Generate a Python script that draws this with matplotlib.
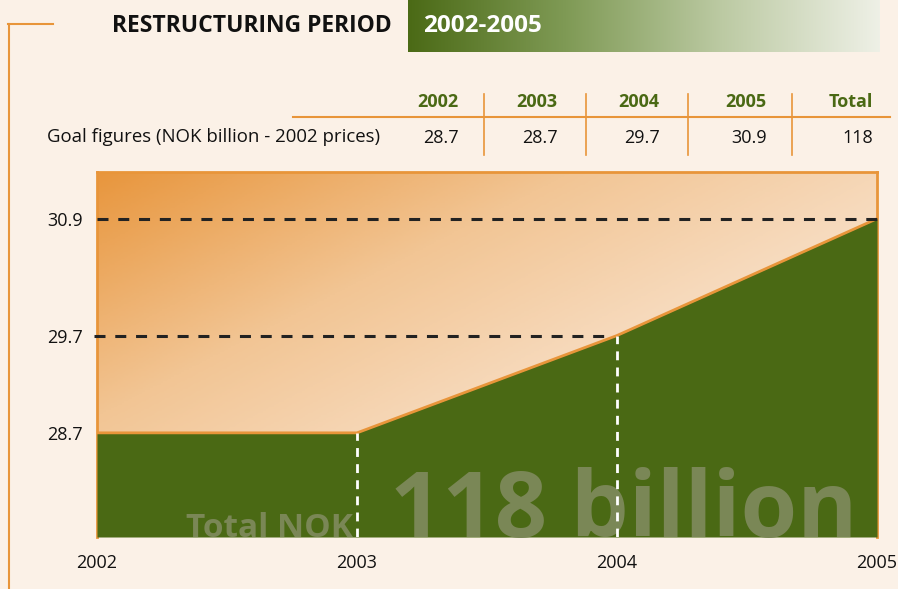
import numpy as np
import matplotlib
matplotlib.use('Agg')
import matplotlib.pyplot as plt
from matplotlib.colors import LinearSegmentedColormap

# data
years = [2002, 2003, 2004, 2005]
goal = [28.7, 28.7, 29.7, 30.9]
total = 118
ytick_vals = [28.7, 29.7, 30.9]
table_head = ['2002', '2003', '2004', '2005', 'Total']
table_vals = ['28.7', '28.7', '29.7', '30.9', '118']

BG = '#fbf1e7'
GREEN = '#4a6914'
ORANGE = '#e8953a'
GHOST = '#7a8756'
FONT = ['Open Sans', 'DejaVu Sans']

W, H = 898, 589
fig = plt.figure(figsize=(W/100, H/100), dpi=100, facecolor=BG)

def fx(px):
    return px / W

def fy(py):
    return 1 - py / H

# header
fig.text(fx(112), fy(26), 'RESTRUCTURING PERIOD', family=FONT, weight='bold',
         fontsize=16.5, color='#111111', va='center', ha='left')
hdr = fig.add_axes([fx(408), fy(52), fx(880)-fx(408), fy(0)-fy(52)])
hdr.axis('off')
hcm = LinearSegmentedColormap.from_list('h', ['#4b6a16', '#7f9a55', '#bccaa3', '#eef0e6'])
hdr.imshow(np.linspace(0, 1, 256)[None, :], cmap=hcm, aspect='auto', extent=[0, 1, 0, 1])
hdr.set_xlim(0, 1); hdr.set_ylim(0, 1)
hdr.text(0.032, 0.5, '2002-2005', color='white', family=FONT, weight='bold',
         fontsize=17.5, va='center', ha='left')

# orange bracket on the left
fig.add_artist(plt.Line2D([fx(8), fx(53)], [fy(24), fy(24)], color=ORANGE, lw=1.5))
fig.add_artist(plt.Line2D([fx(8.5), fx(8.5)], [fy(24), fy(589)], color=ORANGE, lw=1.5))

# table
col_x = [438, 537, 639, 746, 873]
for i, (h, v) in enumerate(zip(table_head, table_vals)):
    ha = 'right' if i == 4 else 'center'
    fig.text(fx(col_x[i]), fy(102), h, color='#4a6914', weight='bold', family=FONT,
             fontsize=13, ha=ha, va='center')
    vx = col_x[i] + 3 if i < 4 else col_x[i]
    fig.text(fx(vx), fy(138), v, color='#111111', family=FONT,
             fontsize=13, ha=ha, va='center')
fig.text(fx(47), fy(137), 'Goal figures (NOK billion - 2002 prices)', color='#111111',
         family=FONT, fontsize=13.4, ha='left', va='center')
fig.add_artist(plt.Line2D([fx(293), fx(890)], [fy(117), fy(117)], color=ORANGE, lw=1.5))
for sx in [484, 586, 688, 792]:
    fig.add_artist(plt.Line2D([fx(sx), fx(sx)], [fy(94), fy(155)], color=ORANGE, lw=1.2))

# main chart
ymin, ymax = 27.63, 31.38
ax = fig.add_axes([fx(97), fy(537), fx(877)-fx(97), fy(172)-fy(537)])
ax.set_facecolor(BG)
ax.set_xlim(years[0], years[-1])
ax.set_ylim(ymin, ymax)

# gradient background of the box
nx, ny = 300, 200
gx, gy = np.meshgrid(np.linspace(0, 1, nx), np.linspace(1, 0, ny))
t = np.clip(0.55 * gx + 0.5 * (1 - gy), 0, 1)
gcm = LinearSegmentedColormap.from_list('g', ['#e8963d', '#f2c594', '#f8e0c8', '#fbebdb'])
ax.imshow(t, cmap=gcm, aspect='auto', origin='upper',
          extent=[years[0], years[-1], ymin, ymax], zorder=1)

ax.fill_between(years, ymin, goal, color=GREEN, zorder=3, lw=0)
ax.plot(years, goal, color=ORANGE, lw=2, zorder=3.5, solid_capstyle='butt')

for sp in ['top', 'left', 'right']:
    ax.spines[sp].set_color(ORANGE)
    ax.spines[sp].set_linewidth(2)
ax.spines['bottom'].set_visible(False)

# big ghost text
ax.text(2002.985, ymin, 'Total NOK', color=GHOST, family=FONT, weight='bold',
        fontsize=24, ha='right', va='baseline', zorder=3.3)
ax.text(2003.125, ymin, '%d billion' % total, color=GHOST, family=FONT, weight='bold',
        fontsize=66, ha='left', va='baseline', zorder=3.3)

# reference dashed lines
dash = (0, (3.6, 3.2))
ax.plot([years[0], years[3]], [goal[3], goal[3]], color='#222222', lw=2.2,
        ls=dash, zorder=4, clip_on=False)
ax.plot([years[0] - 0.01, years[2] - 0.02], [goal[2], goal[2]], color='#222222', lw=2.2,
        ls=dash, zorder=4, clip_on=False)
ax.plot([years[1], years[1]], [ymin, goal[1]], color='white', lw=2, ls=(0, (3.2, 2.6)), zorder=4)
ax.plot([years[2], years[2]], [ymin, goal[2]], color='white', lw=2, ls=(0, (3.2, 2.6)), zorder=4)

ax.set_yticks(ytick_vals)
ax.set_yticklabels(['%.1f' % v for v in ytick_vals], family=FONT, fontsize=13, color='#111111')
ax.set_xticks(years)
ax.set_xticklabels([str(y) for y in years], family=FONT, fontsize=13, color='#111111')
ax.tick_params(axis='y', length=0, pad=10)
ax.tick_params(axis='x', length=0, pad=12)

fig.savefig('out.png', dpi=100, facecolor=BG)
